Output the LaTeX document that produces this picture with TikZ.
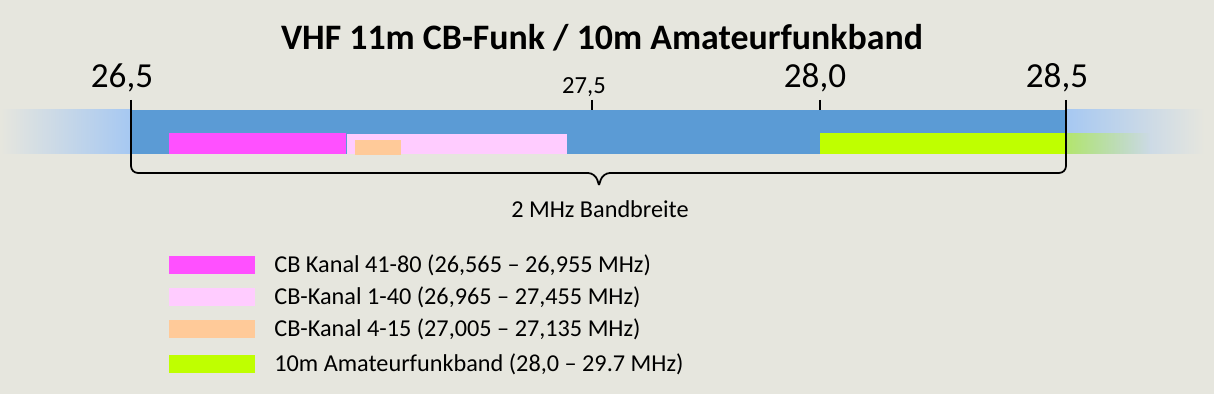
\documentclass[tikz,border=0pt]{standalone}
\usepackage{fontspec}
\setmainfont{Carlito}
\usetikzlibrary{positioning,fadings}
\definecolor{bg}{RGB}{230,230,222}
\definecolor{bandblue}{RGB}{91,155,213}
\definecolor{fadeblue}{RGB}{166,200,242}
\definecolor{cbmag}{RGB}{255,80,255}
\definecolor{cbpink}{RGB}{255,204,255}
\definecolor{cborange}{RGB}{255,202,153}
\definecolor{amgreen}{RGB}{191,255,0}
\tikzfading[name=fadeout, left color=transparent!45, right color=transparent!100]

\begin{document}
\begin{tikzpicture}[x=.02cm, y=-.02cm,
    bigtick/.style={inner sep=0pt, font=\fontsize{20}{20}\selectfont},
    legtext/.style={anchor=west, inner sep=0pt, font=\fontsize{13.8}{15}\selectfont},
    tickline/.style={line width=1.2pt}]
    \fill[bg] (0,0) rectangle (1214,394);
    \useasboundingbox (0,0) rectangle (1214,394);

    \node[inner sep=0pt, font=\bfseries\fontsize{20.4}{22}\selectfont] (title) at (602,38) {VHF 11m CB-Funk / 10m Amateurfunkband};

    % band with faded ends
    \shade[left color=bg, right color=fadeblue] (0,110) rectangle (131,154);
    \shade[left color=fadeblue, right color=bg] (1066,110) rectangle (1205,154);
    \fill[bandblue] (131,110) rectangle (1066,154);
    \fill[cbmag] (169,133) rectangle (346,154);
    \fill[cbpink] (347,134) rectangle (567,154);
    \fill[cborange] (355,140) rectangle (401,155);
    \fill[amgreen] (820,133) rectangle (1066,154);
    \fill[amgreen, path fading=fadeout] (1066,133) rectangle (1150,154);

    % ticks
    \coordinate (t265) at (131,155);
    \coordinate (t285) at (1066,155);
    \draw[tickline] (131,100) -- (t265);
    \draw[tickline] (1066,100) -- (t285);
    \foreach \x in {592,820}
    \draw[tickline] (\x,100) -- (\x,110);

    \node[bigtick] (l265) at (122,78) {26,5};
    \node[inner sep=0pt, font=\fontsize{14}{14}\selectfont] (l275) at (584,87) {27,5};
    \node[bigtick] (l280) at (815,78) {28,0};
    \node[bigtick] (l285) at (1057,78) {28,5};

    % brace
    \coordinate (tip) at (599,185);
    \draw[line width=1pt, rounded corners=4] (t265) -- (131,173) -- (595,173) -- (tip);
    \draw[line width=1pt, rounded corners=4] (t285) -- (1066,173) -- (603,173) -- (tip);
    \node[legtext, anchor=center] (bw) at (600,209) {2 MHz Bandbreite};

    % legend
    \foreach \y/\c/\t in {265/cbmag/{CB Kanal 41-80 (26,565 – 26,955 MHz)},
                          297/cbpink/{CB-Kanal 1-40 (26,965 – 27,455 MHz)},
                          329/cborange/{CB-Kanal 4-15 (27,005 – 27,135 MHz)},
                          364/amgreen/{10m Amateurfunkband (28,0 – 29.7 MHz)}}
    {
      \fill[\c] (169,\y-9) rectangle (255,\y+9);
      \node[legtext] (leg\y) at (274,\y) {\t};
    }

\end{tikzpicture}
\end{document}
